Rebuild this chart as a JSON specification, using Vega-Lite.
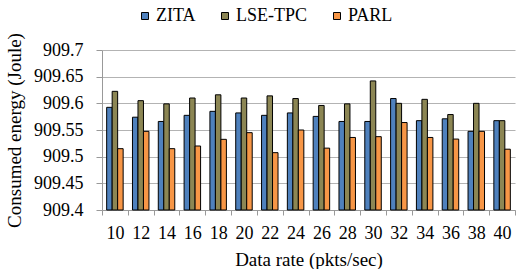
{
  "$schema": "https://vega.github.io/schema/vega-lite/v6.json",
  "width": 413,
  "height": 160,
  "autosize": {"type": "none"},
  "padding": {"left": 102, "top": 50, "right": 1, "bottom": 59},
  "background": "white",
  "config": {
    "view": {"stroke": null}
  },
  "data": {
    "values": [
      {"rate": "10", "series": "ZITA", "energy": 909.5925},
      {"rate": "10", "series": "LSE-TPC", "energy": 909.6225},
      {"rate": "10", "series": "PARL", "energy": 909.515},
      {"rate": "12", "series": "ZITA", "energy": 909.574},
      {"rate": "12", "series": "LSE-TPC", "energy": 909.605},
      {"rate": "12", "series": "PARL", "energy": 909.5475},
      {"rate": "14", "series": "ZITA", "energy": 909.566},
      {"rate": "14", "series": "LSE-TPC", "energy": 909.599},
      {"rate": "14", "series": "PARL", "energy": 909.515},
      {"rate": "16", "series": "ZITA", "energy": 909.5775},
      {"rate": "16", "series": "LSE-TPC", "energy": 909.61},
      {"rate": "16", "series": "PARL", "energy": 909.52},
      {"rate": "18", "series": "ZITA", "energy": 909.585},
      {"rate": "18", "series": "LSE-TPC", "energy": 909.616},
      {"rate": "18", "series": "PARL", "energy": 909.5325},
      {"rate": "20", "series": "ZITA", "energy": 909.582},
      {"rate": "20", "series": "LSE-TPC", "energy": 909.61},
      {"rate": "20", "series": "PARL", "energy": 909.545},
      {"rate": "22", "series": "ZITA", "energy": 909.5775},
      {"rate": "22", "series": "LSE-TPC", "energy": 909.614},
      {"rate": "22", "series": "PARL", "energy": 909.5075},
      {"rate": "24", "series": "ZITA", "energy": 909.582},
      {"rate": "24", "series": "LSE-TPC", "energy": 909.609},
      {"rate": "24", "series": "PARL", "energy": 909.55},
      {"rate": "26", "series": "ZITA", "energy": 909.5755},
      {"rate": "26", "series": "LSE-TPC", "energy": 909.596},
      {"rate": "26", "series": "PARL", "energy": 909.516},
      {"rate": "28", "series": "ZITA", "energy": 909.566},
      {"rate": "28", "series": "LSE-TPC", "energy": 909.599},
      {"rate": "28", "series": "PARL", "energy": 909.536},
      {"rate": "30", "series": "ZITA", "energy": 909.566},
      {"rate": "30", "series": "LSE-TPC", "energy": 909.642},
      {"rate": "30", "series": "PARL", "energy": 909.5375},
      {"rate": "32", "series": "ZITA", "energy": 909.609},
      {"rate": "32", "series": "LSE-TPC", "energy": 909.6},
      {"rate": "32", "series": "PARL", "energy": 909.564},
      {"rate": "34", "series": "ZITA", "energy": 909.5675},
      {"rate": "34", "series": "LSE-TPC", "energy": 909.6075},
      {"rate": "34", "series": "PARL", "energy": 909.536},
      {"rate": "36", "series": "ZITA", "energy": 909.571},
      {"rate": "36", "series": "LSE-TPC", "energy": 909.579},
      {"rate": "36", "series": "PARL", "energy": 909.533},
      {"rate": "38", "series": "ZITA", "energy": 909.5475},
      {"rate": "38", "series": "LSE-TPC", "energy": 909.6},
      {"rate": "38", "series": "PARL", "energy": 909.5475},
      {"rate": "40", "series": "ZITA", "energy": 909.5675},
      {"rate": "40", "series": "LSE-TPC", "energy": 909.5675},
      {"rate": "40", "series": "PARL", "energy": 909.514}
    ]
  },
  "mark": {"type": "bar", "stroke": "black", "strokeWidth": 1},
  "encoding": {
    "x": {
      "field": "rate", "type": "ordinal", "sort": null,
      "scale": {"paddingInner": 0, "paddingOuter": 0},
      "axis": {
        "title": "Data rate (pkts/sec)", "labelAngle": 0, "tickBand": "extent",
        "labelFont": "Times New Roman", "labelColor": "black",
        "titleFont": "Times New Roman", "titleColor": "black", "titleFontWeight": "normal",
        "labelFontSize": 18, "titleFontSize": 19, "tickSize": 5, "tickColor": "#999999",
        "domainColor": "#999999", "labelPadding": 9, "titlePadding": 8, "grid": false
      }
    },
    "xOffset": {
      "field": "series", "type": "nominal", "sort": ["ZITA", "LSE-TPC", "PARL"],
      "scale": {"paddingInner": 0, "paddingOuter": 0.85}
    },
    "y": {
      "field": "energy", "type": "quantitative",
      "scale": {"domain": [909.4, 909.7], "zero": false, "nice": false},
      "axis": {
        "title": "Consumed energy (Joule)", "values": [909.4, 909.45, 909.5, 909.55, 909.6, 909.65, 909.7],
        "labelFont": "serif", "labelColor": "black",
        "titleFont": "serif", "titleColor": "black", "titleFontWeight": "normal",
        "format": ".2~f", "labelFontSize": 18, "titleFontSize": 19, "tickSize": 6, "tickColor": "#999999",
        "domainColor": "#999999", "gridColor": "#b3b3b3", "grid": true, "labelPadding": 13, "titlePadding": 9
      }
    },
    "y2": {"datum": 909.4},
    "color": {
      "field": "series", "type": "nominal", "sort": ["ZITA", "LSE-TPC", "PARL"],
      "scale": {"domain": ["ZITA", "LSE-TPC", "PARL"], "range": ["#4F81BD", "#8C8654", "#F79646"]},
      "legend": {
        "title": null, "orient": "none", "direction": "horizontal", "legendX": 34, "legendY": -43,
        "symbolType": "square", "symbolSize": 49, "symbolStrokeColor": "black", "symbolStrokeWidth": 1,
        "labelFont": "Liberation Serif, serif", "labelFontSize": 18, "labelColor": "black", "labelOffset": 2, "columnPadding": 20
      }
    }
  }
}
